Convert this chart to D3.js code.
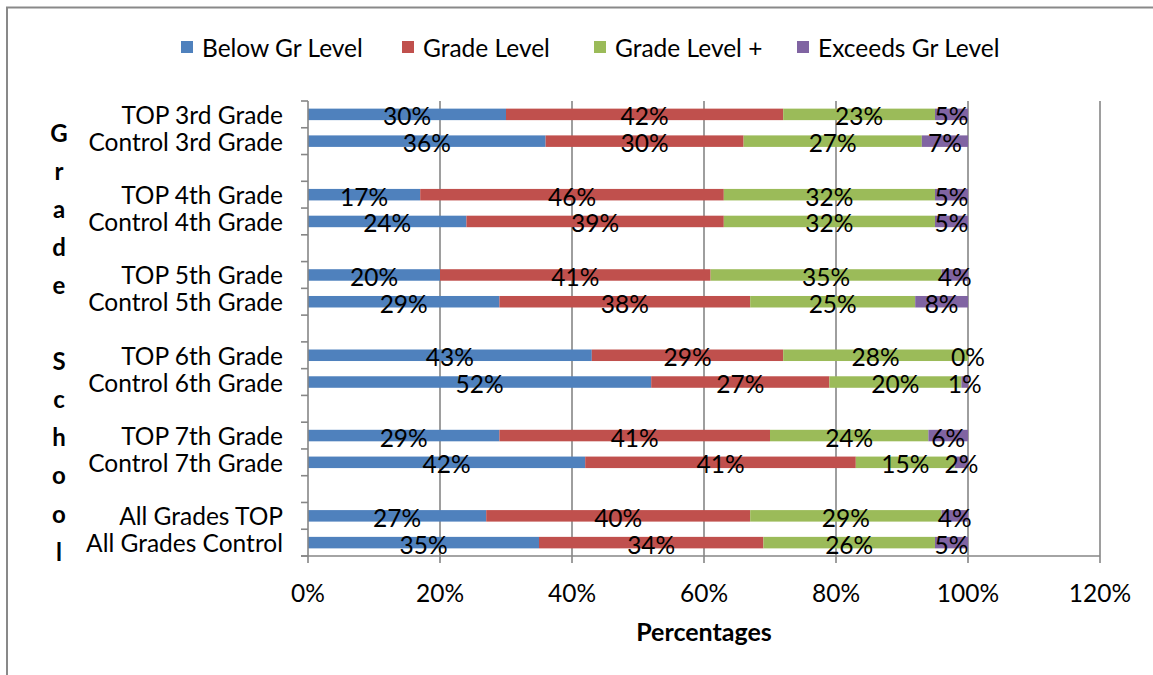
<!DOCTYPE html>
<html>
<head>
<meta charset="utf-8">
<script src="https://cdn.jsdelivr.net/npm/d3@7"></script>
<style>
  html, body { margin: 0; padding: 0; background: #fff; }
  svg { display: block; font-family: Lato, "Open Sans", sans-serif; }
</style>
</head>
<body>
<svg id="chart" width="1153" height="675"></svg>
<script>
// Categories, top to bottom; empty strings are spacer rows between grade pairs
const categories = [
  "TOP 3rd Grade", "Control 3rd Grade", "",
  "TOP 4th Grade", "Control 4th Grade", "",
  "TOP 5th Grade", "Control 5th Grade", "",
  "TOP 6th Grade", "Control 6th Grade", "",
  "TOP 7th Grade", "Control 7th Grade", "",
  "All Grades TOP", "All Grades Control"
];
const seriesNames = ["Below Gr Level", "Grade Level", "Grade Level +", "Exceeds Gr Level"];
const seriesColors = ["#4F81BD", "#C0504D", "#9BBB59", "#8064A2"];

// Percent values per series, in the order of the non-empty categories
const belowGrLevel   = [30, 36, 17, 24, 20, 29, 43, 52, 29, 42, 27, 35];
const gradeLevel     = [42, 30, 46, 39, 41, 38, 29, 27, 41, 41, 40, 34];
const gradeLevelPlus = [23, 27, 32, 32, 35, 25, 28, 20, 24, 15, 29, 26];
const exceedsGrLevel = [ 5,  7,  5,  5,  4,  8,  0,  1,  6,  2,  4,  5];

const xTicks = [0, 20, 40, 60, 80, 100, 120];
const xTitle = "Percentages";
const yTitle = "Grade School";

const FONT = 24.5;

const svg = d3.select("#chart");

// Outer chart frame
svg.append("rect")
  .attr("x", 7).attr("y", 7.5)
  .attr("width", 1200).attr("height", 700)
  .attr("fill", "none").attr("stroke", "#898989").attr("stroke-width", 2);

const plot = { left: 308, right: 1100, top: 101, bottom: 556 };

// Row ids keep the spacer rows distinct inside the band scale
const rowIds = categories.map((c, i) => c === "" ? "__gap" + i : c);

const x = d3.scaleLinear().domain([0, 120]).range([plot.left, plot.right]);
const y = d3.scaleBand().domain(rowIds).range([plot.top, plot.bottom])
  .paddingInner(0.57).paddingOuter(0.285);
const slot = d3.scaleLinear().domain([0, rowIds.length]).range([plot.top, plot.bottom]);

// Stack the data
const rows = categories.filter(c => c !== "").map((c, i) => ({
  cat: c,
  values: [belowGrLevel[i], gradeLevel[i], gradeLevelPlus[i], exceedsGrLevel[i]]
}));
const stacked = rows.map(r => {
  let acc = 0;
  return r.values.map((v, s) => {
    const seg = { cat: r.cat, s, v, x0: acc, x1: acc + v };
    acc += v;
    return seg;
  });
}).flat();

// Vertical gridlines
svg.append("g").selectAll("line")
  .data(xTicks.filter(t => t > 0))
  .join("line")
  .attr("x1", d => x(d)).attr("x2", d => x(d))
  .attr("y1", plot.top).attr("y2", plot.bottom)
  .attr("stroke", "#868686").attr("stroke-width", 1.6);

// Bars
svg.append("g").selectAll("rect")
  .data(stacked)
  .join("rect")
  .attr("x", d => x(d.x0))
  .attr("y", d => y(d.cat))
  .attr("width", d => x(d.x1) - x(d.x0))
  .attr("height", y.bandwidth())
  .attr("fill", d => seriesColors[d.s]);

// Data labels
svg.append("g").selectAll("text")
  .data(stacked)
  .join("text")
  .attr("x", d => x((d.x0 + d.x1) / 2))
  .attr("y", d => y(d.cat) + y.bandwidth() / 2 + 1.5)
  .attr("text-anchor", "middle")
  .attr("dominant-baseline", "central")
  .attr("font-size", FONT)
  .attr("fill", "#000")
  .text(d => d.v + "%");

// Left axis line and tick marks at row boundaries
const axisG = svg.append("g");
axisG.append("line")
  .attr("x1", plot.left).attr("x2", plot.left)
  .attr("y1", plot.top).attr("y2", plot.bottom)
  .attr("stroke", "#868686").attr("stroke-width", 1.6);
axisG.selectAll("line.ytick")
  .data(d3.range(rowIds.length + 1))
  .join("line").attr("class", "ytick")
  .attr("x1", plot.left - 7).attr("x2", plot.left)
  .attr("y1", d => slot(d)).attr("y2", d => slot(d))
  .attr("stroke", "#868686").attr("stroke-width", 1.6);

// Category labels
svg.append("g").selectAll("text")
  .data(rowIds.filter(id => !id.startsWith("__gap")))
  .join("text")
  .attr("x", plot.left - 25)
  .attr("y", d => y(d) + y.bandwidth() / 2)
  .attr("text-anchor", "end")
  .attr("dominant-baseline", "central")
  .attr("font-size", FONT)
  .text(d => d);

// Bottom axis line, ticks and labels
axisG.append("line")
  .attr("x1", plot.left - 7).attr("x2", plot.right)
  .attr("y1", plot.bottom).attr("y2", plot.bottom)
  .attr("stroke", "#868686").attr("stroke-width", 1.6);
axisG.selectAll("line.xtick")
  .data(xTicks)
  .join("line").attr("class", "xtick")
  .attr("x1", d => x(d)).attr("x2", d => x(d))
  .attr("y1", plot.bottom).attr("y2", plot.bottom + 7)
  .attr("stroke", "#868686").attr("stroke-width", 1.6);
svg.append("g").selectAll("text")
  .data(xTicks)
  .join("text")
  .attr("x", d => x(d))
  .attr("y", 592)
  .attr("text-anchor", "middle")
  .attr("dominant-baseline", "central")
  .attr("font-size", FONT)
  .text(d => d + "%");

// Axis titles
svg.append("text")
  .attr("x", (plot.left + plot.right) / 2)
  .attr("y", 631)
  .attr("text-anchor", "middle")
  .attr("dominant-baseline", "central")
  .attr("font-size", 25)
  .attr("font-weight", "bold")
  .text(xTitle);

svg.append("g").selectAll("text")
  .data(yTitle.split(""))
  .join("text")
  .attr("x", 59)
  .attr("y", (d, i) => 132 + i * 38.1)
  .attr("text-anchor", "middle")
  .attr("dominant-baseline", "central")
  .attr("font-size", 24)
  .attr("font-weight", "bold")
  .text(d => d);

// Legend
const legendX = [181, 402, 594, 797];
const legend = svg.append("g").selectAll("g")
  .data(seriesNames)
  .join("g")
  .attr("transform", (d, i) => `translate(${legendX[i]},47)`);
legend.append("rect")
  .attr("x", 0).attr("y", -6)
  .attr("width", 12).attr("height", 12)
  .attr("fill", (d, i) => seriesColors[i]);
legend.append("text")
  .attr("x", 21).attr("y", 0)
  .attr("dominant-baseline", "central")
  .attr("font-size", FONT)
  .text(d => d);
</script>
</body>
</html>
